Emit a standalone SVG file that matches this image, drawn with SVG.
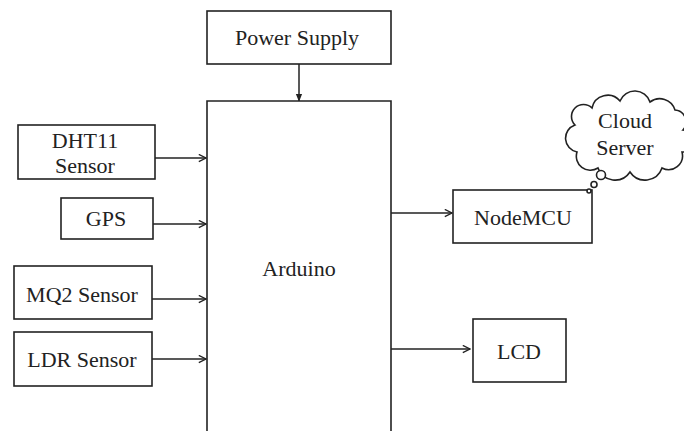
<svg xmlns="http://www.w3.org/2000/svg" width="684" height="431" viewBox="0 0 684 431">
<style>
.box{fill:#fff;stroke:#222;stroke-width:1.6}
.t{font-family:'Liberation Serif','Times New Roman',Tinos,'DejaVu Serif',serif;font-size:22px;fill:#222;text-anchor:middle}
.c{stroke:#222;stroke-width:1.5;fill:none}
</style>
<defs>
<marker id="open" viewBox="0 0 10 10" refX="9" refY="5" markerWidth="9" markerHeight="9" markerUnits="userSpaceOnUse" orient="auto">
<path d="M1,1 L9,5 L1,9" fill="none" stroke="#222" stroke-width="1.5"/>
</marker>
<marker id="fill" viewBox="0 0 10 10" refX="9" refY="5" markerWidth="8" markerHeight="8" markerUnits="userSpaceOnUse" orient="auto">
<path d="M0,1 L10,5 L0,9 Z" fill="#222"/>
</marker>
</defs>
<rect width="684" height="431" fill="#fff"/>
<g id="connectors">
<line class="c" x1="299" y1="64" x2="299" y2="101" marker-end="url(#fill)"/>
<line class="c" x1="155" y1="158" x2="206" y2="158" marker-end="url(#open)"/>
<line class="c" x1="153" y1="224" x2="206" y2="224" marker-end="url(#open)"/>
<line class="c" x1="152" y1="299" x2="206" y2="299" marker-end="url(#open)"/>
<line class="c" x1="152" y1="359" x2="206" y2="359" marker-end="url(#open)"/>
<line class="c" x1="391" y1="213" x2="452" y2="213" marker-end="url(#open)"/>
<line class="c" x1="391" y1="349" x2="470" y2="349" marker-end="url(#open)"/>
</g>
<g id="power-supply">
<rect class="box" x="207" y="11" width="184" height="53"/>
<text class="t" x="297" y="45" font-family="Liberation Serif, serif">Power Supply</text>
</g>
<g id="arduino">
<path class="box" d="M207,431 L207,101 L391,101 L391,431"/>
<text class="t" x="299" y="276" font-family="Liberation Serif, serif">Arduino</text>
</g>
<g id="dht11">
<rect class="box" x="18" y="125" width="137" height="54"/>
<text class="t" x="85" y="148" font-family="Liberation Serif, serif">DHT11</text>
<text class="t" x="85" y="173" font-family="Liberation Serif, serif">Sensor</text>
</g>
<g id="gps">
<rect class="box" x="61" y="198" width="92" height="41"/>
<text class="t" x="106" y="226" font-family="Liberation Serif, serif">GPS</text>
</g>
<g id="mq2">
<rect class="box" x="14" y="266" width="138" height="53"/>
<text class="t" x="82" y="302" font-family="Liberation Serif, serif">MQ2 Sensor</text>
</g>
<g id="ldr">
<rect class="box" x="14" y="332" width="138" height="54"/>
<text class="t" x="82" y="367" font-family="Liberation Serif, serif">LDR Sensor</text>
</g>
<g id="nodemcu">
<rect class="box" x="453" y="190" width="139" height="53"/>
<text class="t" x="523" y="225" font-family="Liberation Serif, serif">NodeMCU</text>
</g>
<g id="lcd">
<rect class="box" x="473" y="319" width="93" height="63"/>
<text class="t" x="519" y="359" font-family="Liberation Serif, serif">LCD</text>
</g>
<g id="cloud-server">
<path class="box" d="M575,125 A12,12 0 0 1 592,108 A16,16 0 0 1 620,101 A16,16 0 0 1 650,102 A16,16 0 0 1 675,110 A12,12 0 0 1 683,130 A10,10 0 0 1 682,152 A14,14 0 0 1 662,168 A18,18 0 0 1 630,172 A18,18 0 0 1 598,168 A14,14 0 0 1 577,152 A14,14 0 0 1 575,125 Z"/>
<circle class="box" cx="601" cy="175" r="4.5"/>
<circle class="box" cx="594" cy="184.5" r="3"/>
<circle class="box" cx="589" cy="191" r="2"/>
<text class="t" x="625" y="128" font-family="Liberation Serif, serif">Cloud</text>
<text class="t" x="625" y="155" font-family="Liberation Serif, serif">Server</text>
</g>
</svg>
